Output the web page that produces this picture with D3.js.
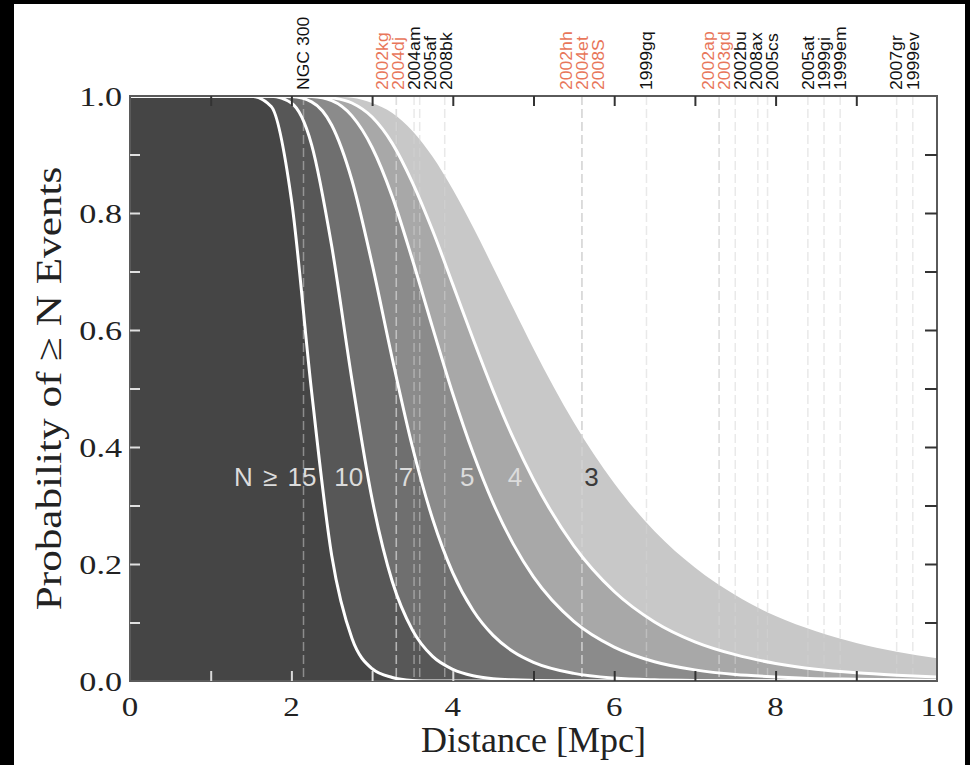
<!DOCTYPE html>
<html>
  <head>
    <meta charset="utf-8">
    <style type="text/css">
      body { margin: 0; background: #000; overflow: hidden; }
      svg { display: block; }
    </style>
    <script src="https://d3js.org/d3.v7.min.js"></script>
  </head>
  <body>
    <svg width="970" height="765"></svg>
    <script>
      // distances (Mpc) at which the curves were read
      const distances = [0, 1.0, 1.5, 1.75, 2.0, 2.25, 2.5, 2.75, 3.0, 3.25, 3.5, 3.75, 4.0, 4.25,
        4.5, 4.75, 5.0, 5.5, 6.0, 6.5, 7.0, 7.5, 8.0, 8.5, 9.0, 9.5, 10.0];
      // probability of >= N events
      const probN15 = [1, 1, 0.9995, 0.982, 0.823, 0.495, 0.214, 0.073, 0.021, 0.006, 0.001, 0, 0, 0,
        0, 0, 0, 0, 0, 0, 0, 0, 0, 0, 0, 0, 0];
      const probN10 = [1, 1, 1, 0.9996, 0.988, 0.917, 0.743, 0.515, 0.311, 0.170, 0.087, 0.042, 0.020, 0.009,
        0.004, 0.002, 0.001, 0, 0, 0, 0, 0, 0, 0, 0, 0, 0];
      const probN7 = [1, 1, 1, 1, 0.999, 0.990, 0.950, 0.856, 0.713, 0.551, 0.400, 0.277, 0.185, 0.121,
        0.078, 0.050, 0.032, 0.013, 0.005, 0.002, 0.001, 0, 0, 0, 0, 0, 0];
      const probN5 = [1, 1, 1, 1, 1, 0.999, 0.992, 0.966, 0.912, 0.828, 0.720, 0.604, 0.491, 0.390,
        0.304, 0.234, 0.178, 0.102, 0.058, 0.033, 0.019, 0.011, 0.007, 0.004, 0.003, 0.002, 0.001];
      const probN4 = [1, 1, 1, 1, 1, 1, 0.997, 0.988, 0.964, 0.919, 0.852, 0.770, 0.678, 0.585,
        0.496, 0.415, 0.344, 0.231, 0.153, 0.101, 0.067, 0.045, 0.030, 0.020, 0.014, 0.010, 0.007];
      const probN3 = [1, 1, 1, 1, 1, 1, 0.999, 0.997, 0.988, 0.971, 0.940, 0.896, 0.840, 0.776,
        0.707, 0.637, 0.568, 0.442, 0.338, 0.256, 0.194, 0.147, 0.111, 0.085, 0.065, 0.050, 0.039];

      const regionNames = ['N \u2265 15', '10', '7', '5', '4', '3'];

      // nearby supernovae / galaxies
      const snNames = ['NGC 300', '2002kg', '2004dj', '2004am', '2005af', '2008bk', '2002hh', '2004et',
        '2008S', '1999gq', '2002ap', '2003gd', '2002bu', '2008ax', '2005cs', '2005at', '1999gi',
        '1999em', '2007gr', '1999ev'];
      const snDistances = [2.15, 3.3, 3.3, 3.52, 3.59, 3.9, 5.6, 5.6, 5.6, 6.4, 7.3, 7.3, 7.5, 7.78,
        7.9, 8.4, 8.6, 8.8, 9.5, 9.7];
      const snHighlight = [0, 1, 1, 0, 0, 0, 1, 1, 1, 0, 1, 1, 0, 0, 0, 0, 0, 0, 0, 0];

      const xTickLabels = [0, 2, 4, 6, 8, 10];
      const yTickLabels = ['0.0', '0.2', '0.4', '0.6', '0.8', '1.0'];

      const svg = d3.select('svg');
      const x = d3.scaleLinear().domain([0, 10]).range([130, 937]);
      const y = d3.scaleLinear().domain([0, 1]).range([681, 96]);

      svg.append('rect').attr('x', 14).attr('y', 4).attr('width', 951).attr('height', 761)
        .attr('fill', '#fff');

      svg.append('clipPath').attr('id', 'plot')
        .append('rect').attr('x', x(0)).attr('y', y(1))
        .attr('width', x(10) - x(0)).attr('height', y(0) - y(1));

      const g = svg.append('g').attr('clip-path', 'url(#plot)');

      const curves = [
        { probs: probN3, fill: '#c8c8c8', line: false },
        { probs: probN4, fill: '#a8a8a8', line: true },
        { probs: probN5, fill: '#8b8b8b', line: true },
        { probs: probN7, fill: '#6f6f6f', line: true },
        { probs: probN10, fill: '#575757', line: true },
        { probs: probN15, fill: '#454545', line: true }
      ];

      const area = d3.area()
        .x((d, i) => x(distances[i]))
        .y0(y(0))
        .y1(d => y(d))
        .curve(d3.curveMonotoneX);
      const line = d3.line()
        .x((d, i) => x(distances[i]))
        .y(d => y(d))
        .curve(d3.curveMonotoneX);

      g.selectAll('path.fill').data(curves).enter().append('path')
        .attr('class', 'fill')
        .attr('d', d => area(d.probs))
        .attr('fill', d => d.fill);

      // vertical dashed lines for each distance
      g.selectAll('line.sn').data(snDistances).enter().append('line')
        .attr('class', 'sn')
        .attr('x1', d => x(d)).attr('x2', d => x(d))
        .attr('y1', y(1)).attr('y2', y(0))
        .attr('stroke', '#d4d4d4')
        .attr('stroke-opacity', 0.5)
        .attr('stroke-width', 1.5)
        .attr('stroke-dasharray', '9,4');

      g.selectAll('path.curve').data(curves.filter(c => c.line)).enter().append('path')
        .attr('class', 'curve')
        .attr('d', d => line(d.probs))
        .attr('fill', 'none')
        .attr('stroke', '#fff')
        .attr('stroke-width', 3);

      // region labels
      const labelAt = [1.8, 2.71, 3.42, 4.18, 4.77, 5.72];
      svg.selectAll('text.region').data(regionNames).enter().append('text')
        .attr('class', 'region')
        .attr('x', (d, i) => x(labelAt[i]))
        .attr('y', y(0.35))
        .attr('dy', '0.36em')
        .attr('text-anchor', 'middle')
        .style('font-family', 'Liberation Sans, Arial, sans-serif')
        .style('font-size', '26px')
        .style('word-spacing', '3px')
        .style('fill', (d, i) => i === 5 ? '#3a3a3a' : '#dcdcdc')
        .text(d => d);

      // frame
      svg.append('rect').attr('x', x(0)).attr('y', y(1))
        .attr('width', x(10) - x(0)).attr('height', y(0) - y(1))
        .attr('fill', 'none').attr('stroke', '#5a5a5a').attr('stroke-width', 2);

      // ticks, drawn inward
      const xMinor = d3.range(1, 10);
      const yMinor = d3.range(1, 10).map(v => v / 10);
      svg.append('g').attr('transform', `translate(0,${y(0)})`)
        .call(d3.axisBottom(x).tickValues(xMinor).tickSize(-10).tickFormat(''))
        .call(a => a.select('.domain').remove())
        .call(a => a.selectAll('line').attr('stroke', d => d <= 4 ? '#d8d8d8' : '#333').attr('stroke-width', 2));
      svg.append('g').attr('transform', `translate(0,${y(1)})`)
        .call(d3.axisTop(x).tickValues(xMinor).tickSize(-10).tickFormat(''))
        .call(a => a.select('.domain').remove())
        .call(a => a.selectAll('line').attr('stroke', '#333').attr('stroke-width', 2));
      svg.append('g').attr('transform', `translate(${x(0)},0)`)
        .call(d3.axisLeft(y).tickValues(yMinor).tickSize(-10).tickFormat(''))
        .call(a => a.select('.domain').remove())
        .call(a => a.selectAll('line').attr('stroke', '#e0e0e0').attr('stroke-width', 2));
      svg.append('g').attr('transform', `translate(${x(10)},0)`)
        .call(d3.axisRight(y).tickValues(yMinor).tickSize(-12).tickFormat(''))
        .call(a => a.select('.domain').remove())
        .call(a => a.selectAll('line').attr('stroke', '#333').attr('stroke-width', 2));

      const serif = 'Liberation Serif, Times New Roman, serif';
      svg.selectAll('text.xtick').data(xTickLabels).enter().append('text')
        .attr('class', 'xtick')
        .attr('transform', d => `translate(${x(d)},716) scale(1.22,1)`)
        .attr('text-anchor', 'middle')
        .style('font-family', serif).style('font-size', '27px').style('fill', '#222')
        .text(d => d);
      svg.selectAll('text.ytick').data(yTickLabels).enter().append('text')
        .attr('class', 'ytick')
        .attr('transform', d => `translate(122,${y(+d)}) scale(1.22,1)`)
        .attr('dy', '0.36em')
        .attr('text-anchor', 'end')
        .style('font-family', serif).style('font-size', '28px').style('fill', '#222')
        .text(d => d);

      svg.append('text')
        .attr('x', (x(0) + x(10)) / 2).attr('y', 752)
        .attr('text-anchor', 'middle')
        .style('font-family', serif).style('font-size', '36px').style('fill', '#222')
        .text('Distance [Mpc]');
      svg.append('text')
        .attr('transform', `translate(61,${(y(0) + y(1)) / 2}) rotate(-90) scale(1.2,1)`)
        .attr('text-anchor', 'middle')
        .style('font-family', serif).style('font-size', '36px').style('fill', '#222')
        .text('Probability of \u2265 N Events');

      // top labels, spread so they do not overlap
      const gap = 16;
      const pos = snDistances.map(d => x(d));
      for (let k = 0; k < 60; k++) {
        for (let i = 1; i < pos.length; i++) {
          const over = gap - (pos[i] - pos[i - 1]);
          if (over > 0) { pos[i - 1] -= over / 2; pos[i] += over / 2; }
        }
      }
      svg.selectAll('text.sn').data(snNames).enter().append('text')
        .attr('class', 'sn')
        .attr('transform', (d, i) => `translate(${pos[i]},90) rotate(-90) scale(1.1,1)`)
        .attr('dy', '0.36em')
        .style('font-family', 'Liberation Sans, Arial, sans-serif')
        .style('font-size', '16px')
        .style('fill', (d, i) => snHighlight[i] ? '#e8765a' : '#111')
        .text(d => d);
    </script>
  </body>
</html>
